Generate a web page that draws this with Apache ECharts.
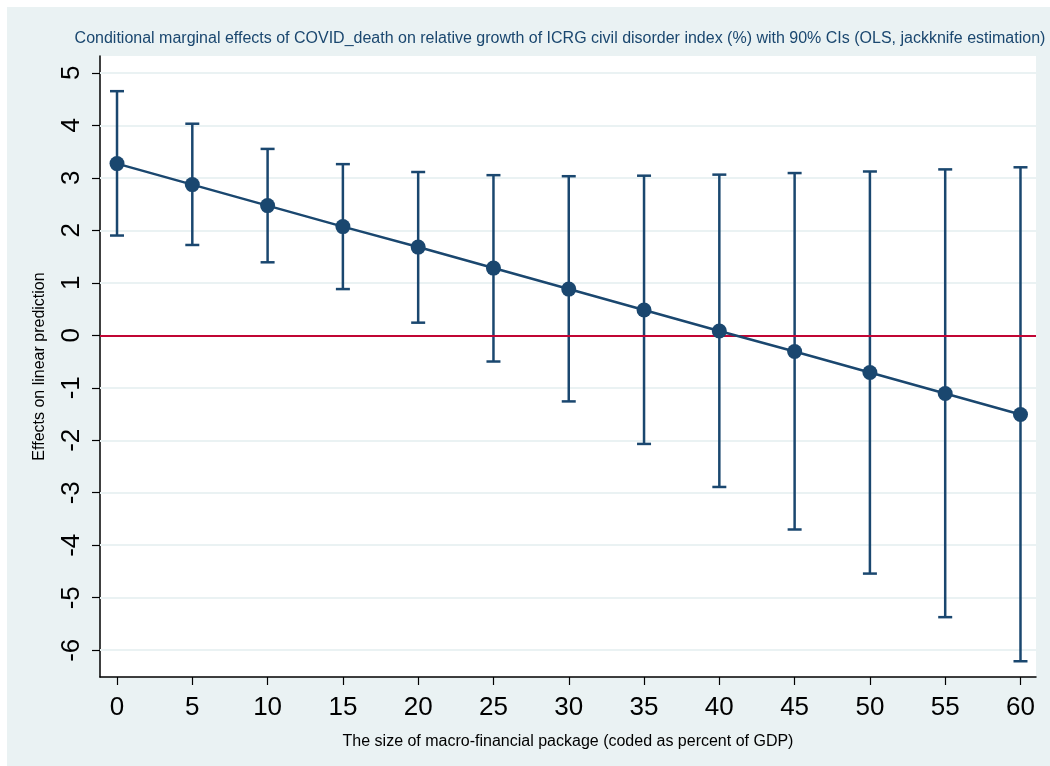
<!DOCTYPE html>
<html>
<head>
<meta charset="utf-8">
<script src="https://cdn.jsdelivr.net/npm/echarts@6/dist/echarts.min.js"></script>
<style>
html,body{margin:0;padding:0;background:#fff;}
#chart{width:1050px;height:766px;}
</style>
</head>
<body>
<div id="chart"></div>
<script>
const xValues = [0, 5, 10, 15, 20, 25, 30, 35, 40, 45, 50, 55, 60];
const estimate = [3.27, 2.87, 2.47, 2.07, 1.68, 1.28, 0.88, 0.48, 0.08, -0.31, -0.71, -1.11, -1.51];
const upperCI = [4.65, 4.03, 3.55, 3.26, 3.11, 3.05, 3.03, 3.04, 3.06, 3.09, 3.12, 3.16, 3.20];
const lowerCI = [1.90, 1.72, 1.39, 0.88, 0.24, -0.50, -1.26, -2.07, -2.89, -3.70, -4.54, -5.37, -6.21];
const yTicks = [-6, -5, -4, -3, -2, -1, 0, 1, 2, 3, 4, 5];
const xTicks = [0, 5, 10, 15, 20, 25, 30, 35, 40, 45, 50, 55, 60];

const NAVY = '#1A476F';
const RED = '#C10534';
const BG = '#EAF2F3';
const FONT = 'Liberation Sans, Arial, sans-serif';

const chart = echarts.init(document.getElementById('chart'), null, {renderer: 'canvas'});

const ciData = xValues.map((x, i) => [x, lowerCI[i], upperCI[i]]);

const option = {
  animation: false,
  backgroundColor: '#ffffff',
  graphic: [{
    type: 'rect', z: -10, silent: true,
    shape: {x: 7, y: 7, width: 1043, height: 759},
    style: {fill: BG}
  }],
  title: {
    text: 'Conditional marginal effects of COVID_death on relative growth of ICRG civil disorder index (%) with 90% CIs (OLS, jackknife estimation)',
    left: 555, top: 26, textAlign: 'center',
    textStyle: {color: NAVY, fontSize: 16, fontWeight: 'normal', fontFamily: FONT}
  },
  grid: {
    left: 100, right: 14, top: 56, bottom: 89,
    show: true, backgroundColor: '#ffffff', borderWidth: 0
  },
  xAxis: {
    type: 'value', min: -1.13, max: 61.03,
    name: 'The size of macro-financial package (coded as percent of GDP)',
    nameLocation: 'middle', nameGap: 57,
    nameTextStyle: {color: '#000', fontSize: 16, fontFamily: FONT},
    axisLine: {show: true, onZero: false, lineStyle: {color: '#000', width: 1.5}},
    axisTick: {show: true, length: 8, customValues: xTicks, lineStyle: {color: '#000', width: 1.2}},
    axisLabel: {customValues: xTicks, color: '#000', fontSize: 26, fontFamily: FONT, margin: 18},
    splitLine: {show: false}
  },
  yAxis: {
    type: 'value', min: -6.51, max: 5.32,
    name: 'Effects on linear prediction',
    nameLocation: 'middle', nameGap: 52,
    nameTextStyle: {color: '#000', fontSize: 16, fontFamily: FONT},
    axisLine: {show: true, onZero: false, lineStyle: {color: '#000', width: 1.5}},
    axisTick: {show: true, length: 8, customValues: yTicks, lineStyle: {color: '#000', width: 1.2}},
    axisLabel: {customValues: yTicks, rotate: 90, color: '#000', fontSize: 26, fontFamily: FONT, margin: 15,
      formatter: v => String(v)},
    splitLine: {show: false}
  },
  series: [
    {
      type: 'line', data: [], z: 1, silent: true,
      markLine: {
        z: 1, silent: true, symbol: 'none', label: {show: false},
        lineStyle: {color: BG, width: 2, type: 'solid'},
        data: yTicks.map(v => ({yAxis: v}))
      }
    },
    {
      type: 'custom', z: 3, silent: true,
      data: ciData,
      encode: {x: 0, y: [1, 2]},
      renderItem: function (params, api) {
        const x = api.value(0);
        const lo = api.coord([x, api.value(1)]);
        const hi = api.coord([x, api.value(2)]);
        const hw = 7;
        const style = {stroke: NAVY, lineWidth: 2.5};
        return {
          type: 'group',
          children: [
            {type: 'line', shape: {x1: lo[0], y1: lo[1], x2: hi[0], y2: hi[1]}, style: style},
            {type: 'line', shape: {x1: lo[0] - hw, y1: lo[1], x2: lo[0] + hw, y2: lo[1]}, style: style},
            {type: 'line', shape: {x1: hi[0] - hw, y1: hi[1], x2: hi[0] + hw, y2: hi[1]}, style: style}
          ]
        };
      }
    },
    {
      type: 'line', data: [], z: 3.5, silent: true,
      markLine: {
        z: 3.5, silent: true, symbol: 'none', label: {show: false},
        lineStyle: {color: RED, width: 2, type: 'solid'},
        data: [{yAxis: 0}]
      }
    },
    {
      type: 'line', z: 4,
      data: xValues.map((x, i) => [x, estimate[i]]),
      symbol: 'circle', symbolSize: 15,
      lineStyle: {color: NAVY, width: 2.5},
      itemStyle: {color: NAVY}
    }
  ]
};
chart.setOption(option);
</script>
</body>
</html>
